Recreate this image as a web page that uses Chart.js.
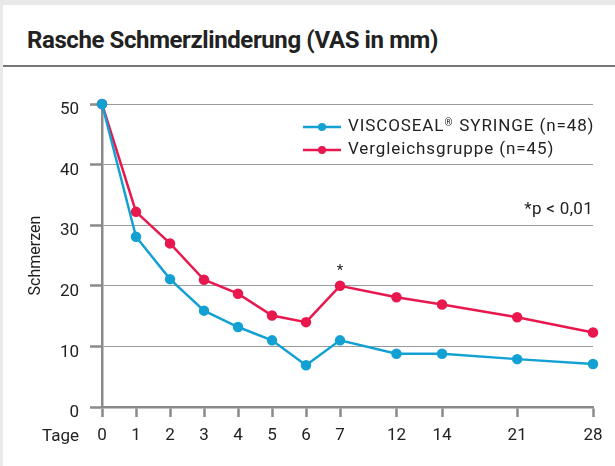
<!DOCTYPE html>
<html lang="de">
<head>
<meta charset="utf-8">
<script src="https://cdn.jsdelivr.net/npm/chart.js@4"></script>
<style>
  html, body { margin: 0; padding: 0; }
  body { width: 615px; height: 466px; background: #e9e9e9; position: relative; overflow: hidden; font-family: Roboto, sans-serif; }
  .card { position: absolute; left: 3px; top: 5px; right: 0; bottom: 0; background: #fff; }
  .titel { position: absolute; left: 24px; top: 21px; font-weight: 700; font-size: 24px; color: #222; letter-spacing: -0.4px; white-space: nowrap; }
  .linie { position: absolute; left: 0; right: 0; top: 60px; height: 2px; background: #777; }
  #stage { position: absolute; left: 0; top: 0; }
</style>
</head>
<body>
<div class="card">
  <div class="titel">Rasche Schmerzlinderung (VAS in mm)</div>
  <div class="linie"></div>
</div>
<canvas id="stage" width="615" height="466"></canvas>
<script>
// Tage (Kategorien) und ihre Lage auf der Achse (Achse ist nach Tag 7 gestaucht)
const tage = ['0', '1', '2', '3', '4', '5', '6', '7', '12', '14', '21', '28'];
const tagePos = [0, 1, 2, 3, 4, 5, 6, 7, 8.66, 10, 12.21, 14.44];

// Schmerz-Werte (VAS in mm)
const viscoseal = [50, 28.1, 21.1, 15.9, 13.2, 11.0, 6.9, 11.0, 8.8, 8.8, 7.9, 7.1];
const vergleich = [50, 32.2, 27.0, 21.0, 18.7, 15.1, 14.0, 20.0, 18.1, 16.9, 14.8, 12.3];

const yTicks = [0, 10, 20, 30, 40, 50];
const labels = ['VISCOSEAL® SYRINGE (n=48)', 'Vergleichsgruppe (n=45)'];
const signifTag = '7';

const blau = '#13a1d3';
const rot = '#e8184e';
const grau = '#8a8a8a';
const schrift = '#222';

function punkte(werte) {
  return werte.map((v, i) => ({ x: tagePos[i], y: v }));
}

// Legende, Signifikanz-Hinweis und "Tage" direkt auf die Zeichenfläche
const extras = {
  id: 'extras',
  afterDraw(chart) {
    const { ctx, chartArea, scales } = chart;
    ctx.save();
    ctx.textBaseline = 'middle';

    chart.data.datasets.forEach((ds, i) => {
      const x = chartArea.left + 201;
      const y = chartArea.top + 23 + i * 23;
      ctx.strokeStyle = ds.borderColor;
      ctx.lineWidth = 2.5;
      ctx.beginPath();
      ctx.moveTo(x, y);
      ctx.lineTo(x + 38, y);
      ctx.stroke();
      ctx.fillStyle = ds.borderColor;
      ctx.beginPath();
      ctx.arc(x + 19, y, 4, 0, Math.PI * 2);
      ctx.fill();

      ctx.fillStyle = schrift;
      ctx.textAlign = 'left';
      ctx.letterSpacing = '0.9px';
      let tx = x + 45;
      const teile = ds.label.split('®');
      ctx.font = '17px Roboto';
      ctx.fillText(teile[0], tx, y);
      tx += ctx.measureText(teile[0]).width;
      if (teile.length > 1) {
        ctx.font = '10px Roboto';
        ctx.fillText('®', tx, y - 4);
        tx += ctx.measureText('®').width + 1;
        ctx.font = '17px Roboto';
        ctx.fillText(teile[1], tx, y);
      }
    });

    ctx.letterSpacing = '0.3px';
    ctx.font = '17px Roboto';
    ctx.textAlign = 'right';
    ctx.fillText('*p < 0,01', chartArea.right, chartArea.top + 106);
    ctx.letterSpacing = '0px';

    // Stern über dem signifikanten Punkt
    const idx = tage.indexOf(signifTag);
    const px = scales.x.getPixelForValue(tagePos[idx]);
    const py = scales.y.getPixelForValue(vergleich[idx]);
    ctx.textAlign = 'center';
    ctx.font = '15px Roboto';
    ctx.fillText('*', px, py - 15);

    // "Tage" links neben den x-Beschriftungen
    ctx.font = '17px Roboto';
    ctx.textAlign = 'right';
    ctx.fillText('Tage', chartArea.left - 23, scales.x.top + 30);
    ctx.restore();
  }
};

new Chart(document.getElementById('stage'), {
  type: 'line',
  data: {
    datasets: [{
      label: labels[0],
      data: punkte(viscoseal),
      borderColor: blau,
      backgroundColor: blau,
      borderWidth: 2.5,
      pointRadius: 4,
      pointHoverRadius: 4,
      clip: false,
    }, {
      label: labels[1],
      data: punkte(vergleich),
      borderColor: rot,
      backgroundColor: rot,
      borderWidth: 2.5,
      pointRadius: 4,
      pointHoverRadius: 4,
      clip: false,
    }]
  },
  options: {
    responsive: false,
    animation: false,
    layout: { padding: { top: 104, right: 22, left: 0, bottom: 0 } },
    plugins: { legend: { display: false }, tooltip: { enabled: false } },
    scales: {
      x: {
        type: 'linear',
        min: 0,
        max: tagePos[tagePos.length - 1],
        afterFit(s) { s.height = 59; },
        afterBuildTicks(s) { s.ticks = tagePos.map(v => ({ value: v })); },
        border: { color: grau, width: 2.5 },
        grid: { drawOnChartArea: false, tickLength: 10, tickColor: grau, tickWidth: 2.5 },
        ticks: {
          callback: (v, i) => tage[i],
          font: { family: 'Roboto', size: 17 },
          color: schrift,
          padding: 9,
          maxRotation: 0,
          autoSkip: false
        }
      },
      y: {
        min: 0,
        max: 50,
        afterFit(s) { s.width = 102; },
        afterBuildTicks(s) { s.ticks = yTicks.map(v => ({ value: v })); },
        border: { color: grau, width: 2.5 },
        grid: {
          color: '#9a9a9a',
          lineWidth: 1,
          borderDash: [1, 2],
          tickLength: 12,
          tickColor: grau,
          tickWidth: 2.5,
          tickBorderDash: [1, 0]
        },
        ticks: {
          font: { family: 'Roboto', size: 17 },
          color: schrift,
          padding: 11,
          labelOffset: 6
        },
        title: {
          display: true,
          text: 'Schmerzen',
          font: { family: 'Roboto', size: 16 },
          color: schrift,
          padding: { top: 26, bottom: 0 }
        }
      }
    }
  },
  plugins: [extras]
});
</script>
</body>
</html>
